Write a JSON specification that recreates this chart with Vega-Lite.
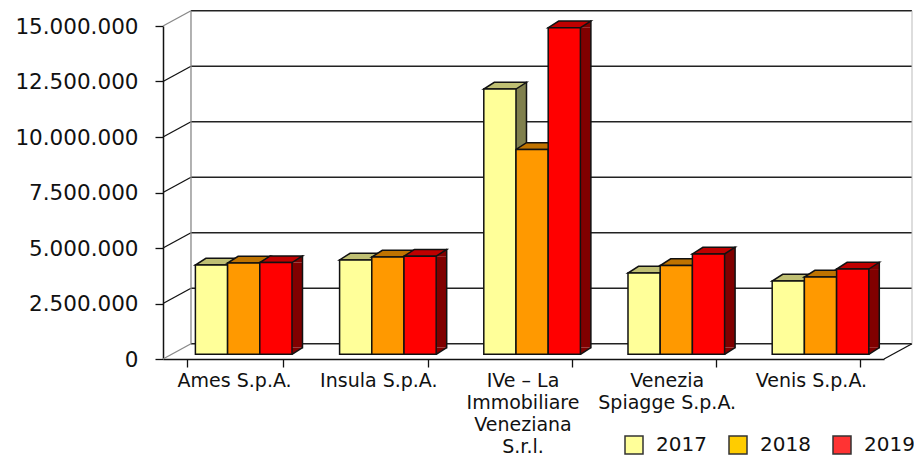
{
"$schema":"https://vega.github.io/schema/vega-lite/v6.json",
"width":721,"height":333,"autosize":"none",
"padding":{"left":163,"top":26,"right":30,"bottom":98},
"background":"white",
"config":{"view":{"stroke":null},"font":"DejaVu Sans"},
"datasets":{
"bars":[
{"company":"Ames S.p.A.","year":"2017","value":4020000},{"company":"Ames S.p.A.","year":"2018","value":4110000},{"company":"Ames S.p.A.","year":"2019","value":4130000},
{"company":"Insula S.p.A.","year":"2017","value":4250000},{"company":"Insula S.p.A.","year":"2018","value":4380000},{"company":"Insula S.p.A.","year":"2019","value":4420000},
{"company":"IVe – La Immobiliare Veneziana S.r.l.","year":"2017","value":11950000},{"company":"IVe – La Immobiliare Veneziana S.r.l.","year":"2018","value":9230000},{"company":"IVe – La Immobiliare Veneziana S.r.l.","year":"2019","value":14710000},
{"company":"Venezia Spiagge S.p.A.","year":"2017","value":3660000},{"company":"Venezia Spiagge S.p.A.","year":"2018","value":4000000},{"company":"Venezia Spiagge S.p.A.","year":"2019","value":4520000},
{"company":"Venis S.p.A.","year":"2017","value":3300000},{"company":"Venis S.p.A.","year":"2018","value":3480000},{"company":"Venis S.p.A.","year":"2019","value":3840000}
],
"ticks":[{"tick":0},{"tick":2500000},{"tick":5000000},{"tick":7500000},{"tick":10000000},{"tick":12500000},{"tick":15000000}]
},
"resolve":{"scale":{"fill":"independent","xOffset":"independent"}},
"layer":[
{"data":{"name":"ticks"},"mark":{"type":"point","shape":"M4.2,-15.3L725.2,-15.3","size":4,"stroke":"#222","strokeWidth":1.5,"fill":null,"opacity":1},
 "encoding":{"x":{"datum":"Ames S.p.A.","type":"nominal","bandPosition":0},"y":{"field":"tick","type":"quantitative","scale":{"domain":[0,15000000],"nice":false},"axis":{"values":[0,2500000,5000000,7500000,10000000,12500000,15000000],"title":null,"grid":false,"labelExpr":"replace(format(datum.value,',d'),/,/g,'.')","labelFontSize":21.5,"labelColor":"#111","labelPadding":17,"labelOffset":1,"tickSize":8,"tickColor":"#111","tickWidth":1.3,"domainColor":"#111","domainWidth":1.5}}}},
{"data":{"name":"ticks"},"mark":{"type":"point","shape":"M-23.8,0L4.2,-15.3","size":4,"stroke":"#111","strokeWidth":1.3,"fill":null,"opacity":1},
 "transform":[{"filter":"datum.tick>0 && datum.tick<15000000"}],
 "encoding":{"x":{"datum":"Ames S.p.A.","type":"nominal","bandPosition":0},"y":{"field":"tick","type":"quantitative"}}},
{"data":{"name":"ticks"},"mark":{"type":"point","shape":"M-23.8,0L4.2,-15.3","size":4,"stroke":"#888","strokeWidth":1.3,"fill":null,"opacity":1},
 "transform":[{"filter":"datum.tick==0 || datum.tick==15000000"}],
 "encoding":{"x":{"datum":"Ames S.p.A.","type":"nominal","bandPosition":0},"y":{"field":"tick","type":"quantitative"}}},
{"data":{"name":"ticks"},"mark":{"type":"point","shape":"M23.8,0L51.8,-15.3","size":4,"stroke":"#111","strokeWidth":1.3,"fill":null,"opacity":1},
 "transform":[{"filter":"datum.tick==0"}],
 "encoding":{"x":{"datum":"Venis S.p.A.","type":"nominal","bandPosition":1},"y":{"field":"tick","type":"quantitative"}}},
{"data":{"values":[{"lo":0,"hi":15000000}]},"mark":{"type":"rule","stroke":"#888","strokeWidth":1.3,"xOffset":4.2,"yOffset":-15.3,"y2Offset":-15.3},
 "encoding":{"x":{"datum":"Ames S.p.A.","type":"nominal","bandPosition":0},"y":{"field":"lo","type":"quantitative"},"y2":{"field":"hi"}}},
{"data":{"values":[{"lo":0,"hi":15000000}]},"mark":{"type":"rule","stroke":"#bbb","strokeWidth":1,"xOffset":51.8,"yOffset":-15.3,"y2Offset":-15.3},
 "encoding":{"x":{"datum":"Venis S.p.A.","type":"nominal","bandPosition":1},"y":{"field":"lo","type":"quantitative"},"y2":{"field":"hi"}}},

{"data":{"name":"bars"},"mark":{"type":"bar","width":10.5,"yOffset":-4.7,"y2Offset":-11.4},
 "encoding":{"x":{"field":"company","type":"nominal"},"xOffset":{"field":"year","type":"nominal","scale":{"range":[29.95,126.55]}},"y":{"field":"value","type":"quantitative","stack":null},"y2":{"datum":0},
 "fill":{"field":"year","type":"nominal","legend":null,"scale":{"range":["#80804D","#804D00","#800000"]}}}},
{"data":{"name":"bars"},"mark":{"type":"point","size":4,"shape":"M24.7,-4.7L35.2,-11.4L35.2,-4.7Z","opacity":1,"strokeWidth":0},
 "encoding":{"x":{"field":"company","type":"nominal"},"xOffset":{"field":"year","type":"nominal"},"y":{"field":"value","type":"quantitative"},
 "fill":{"field":"year","type":"nominal","legend":null,"scale":{"range":["#80804D","#804D00","#800000"]}}}},
{"data":{"name":"bars"},"mark":{"type":"point","size":4,"shape":"M24.7,-11.4L35.2,-11.4L24.7,-4.7Z","opacity":1,"strokeWidth":0},
 "encoding":{"x":{"field":"company","type":"nominal"},"xOffset":{"field":"year","type":"nominal"},"y":{"datum":0,"type":"quantitative"},
 "fill":{"field":"year","type":"nominal","legend":null,"scale":{"range":["#80804D","#804D00","#800000"]}}}},
{"data":{"name":"bars"},"mark":{"type":"point","size":4,"shape":"M24.7,-4.7L35.2,-11.4","opacity":1,"stroke":"#111","strokeWidth":1.5,"fill":null},
 "encoding":{"x":{"field":"company","type":"nominal"},"xOffset":{"field":"year","type":"nominal"},"y":{"datum":0,"type":"quantitative"}}},
{"data":{"name":"bars"},"mark":{"type":"bar","width":0.01,"yOffset":-11.4,"y2Offset":-11.4,"stroke":"#111","strokeWidth":1.5},
 "encoding":{"x":{"field":"company","type":"nominal"},"xOffset":{"field":"year","type":"nominal","scale":{"range":[35.2,131.8]}},"y":{"field":"value","type":"quantitative","stack":null},"y2":{"datum":0}}},
{"data":{"name":"bars"},"mark":{"type":"point","size":4,"shape":"M-7.5,-4.7L24.7,-4.7L35.2,-11.4L3,-11.4Z","opacity":1,"stroke":"#111","strokeWidth":1.5},
 "encoding":{"x":{"field":"company","type":"nominal"},"xOffset":{"field":"year","type":"nominal"},"y":{"field":"value","type":"quantitative"},
 "fill":{"field":"year","type":"nominal","legend":null,"scale":{"range":["#BFBF73","#BF7300","#BF0000"]}}}},
{"data":{"name":"bars"},"mark":{"type":"bar","yOffset":-4.7,"y2Offset":-4.7,"stroke":"#111","strokeWidth":1.5},
 "encoding":{"x":{"field":"company","type":"nominal","scale":{"domain":["Ames S.p.A.","Insula S.p.A.","IVe – La Immobiliare Veneziana S.r.l.","Venezia Spiagge S.p.A.","Venis S.p.A."],"paddingInner":0.33,"paddingOuter":0.165},
  "axis":{"title":null,"labelAngle":0,"labelAlign":"center","tickBand":"extent","tickOffset":-23.8,"tickSize":8,"tickColor":"#111","tickWidth":1.3,"domainColor":"#111","domainWidth":1.5,"labelFontSize":19,"labelColor":"#111","labelLineHeight":22,"labelPadding":4,"labelBaseline":"top","labelLimit":0,"labelOffset":-1,
  "labelExpr":"datum.label=='IVe – La Immobiliare Veneziana S.r.l.' ? ['IVe – La','Immobiliare','Veneziana','S.r.l.'] : datum.label=='Venezia Spiagge S.p.A.' ? ['Venezia','Spiagge S.p.A.'] : datum.label"}},
  "xOffset":{"field":"year","type":"nominal","scale":{"range":[8.6,105.2]}},"y":{"field":"value","type":"quantitative","stack":null},"y2":{"datum":0},
 "fill":{"field":"year","type":"nominal","legend":null,"scale":{"range":["#FFFF99","#FF9900","#FF0000"]}}}},
{"data":{"name":"bars"},"mark":{"type":"point","filled":true,"size":0,"opacity":1},
 "encoding":{"x":{"field":"company","type":"nominal"},"xOffset":{"field":"year","type":"nominal"},"y":{"field":"value","type":"quantitative"},
 "fill":{"field":"year","type":"nominal","scale":{"range":["#FFFF99","#FFCC00","#FF3333"]},
  "legend":{"title":null,"orient":"none","legendX":461,"legendY":409,"direction":"horizontal","columns":3,"symbolType":"square","symbolSize":324,"symbolOpacity":1,"symbolStrokeColor":"#333","symbolStrokeWidth":1.5,"labelFontSize":20,"labelColor":"#111","labelOffset":12,"columnPadding":19,"padding":0}}}}
]
}
